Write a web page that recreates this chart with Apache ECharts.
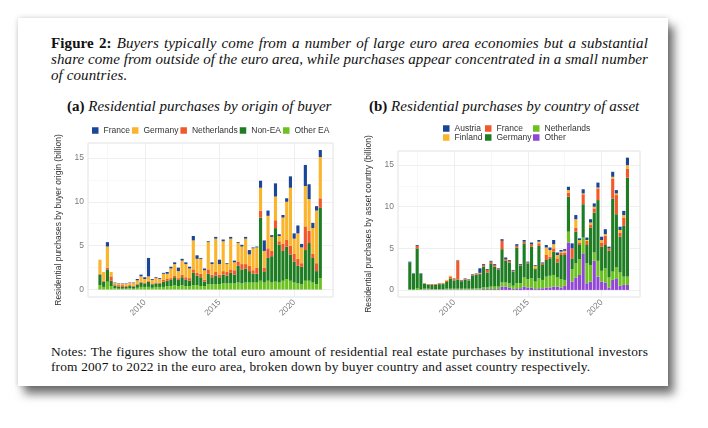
<!DOCTYPE html>
<html>
<head>
<meta charset="utf-8">
<script src="https://cdn.jsdelivr.net/npm/echarts@6/dist/echarts.min.js"></script>
<style>
    body { margin: 0; background: #fff; width: 708px; height: 428px; overflow: hidden; }
    #paper {
        position: absolute; left: 18px; top: 18px; width: 650px; height: 368px;
        background: #fff;
        box-shadow: 6px 8px 9px rgba(0, 0, 0, 0.55), 0 0 5px rgba(0, 0, 0, 0.18);
    }
    .serif { position: absolute; font-family: 'Liberation Serif', 'Times New Roman', serif; color: #111; }
    .line { white-space: nowrap; }
    .just { display: inline-block; }
    #caption { left: 51px; top: 35px; width: 597px; font-size: 15px; line-height: 16px; letter-spacing: 0.1px; }
    #notes { left: 51px; top: 344px; width: 597px; font-size: 13.4px; line-height: 15px; letter-spacing: 0.15px; }
    .sub { top: 98px; font-size: 15px; white-space: nowrap; }
    .chart { position: absolute; top: 0; width: 354px; height: 340px; }
</style>
</head>
<body>
<div id="paper"></div>
<div id="caption" class="serif">
    <div><span class="line just"><b>Figure 2:</b> <i>Buyers typically come from a number of large euro area economies but a substantial</i></span></div>
    <div><span class="line just"><i>share come from outside of the euro area, while purchases appear concentrated in a small number</i></span></div>
    <div class="line"><i>of countries.</i></div>
</div>
<div class="serif sub" style="left:67px"><b>(a)</b> <i>Residential purchases by origin of buyer</i></div>
<div class="serif sub" style="left:369px"><b>(b)</b> <i>Residential purchases by country of asset</i></div>
<div id="chartA" class="chart" style="left:0"></div>
<div id="chartB" class="chart" style="left:354px"></div>
<div id="notes" class="serif">
    <div><span class="line just">Notes: The figures show the total euro amount of residential real estate purchases by institutional investors</span></div>
    <div class="line">from 2007 to 2022 in the euro area, broken down by buyer country and asset country respectively.</div>
</div>

<script>
// Quarters 2007Q1 - 2021Q4
const quarters = [
    '2007Q1', '2007Q2', '2007Q3', '2007Q4', '2008Q1', '2008Q2', '2008Q3', '2008Q4',
    '2009Q1', '2009Q2', '2009Q3', '2009Q4', '2010Q1', '2010Q2', '2010Q3', '2010Q4',
    '2011Q1', '2011Q2', '2011Q3', '2011Q4', '2012Q1', '2012Q2', '2012Q3', '2012Q4',
    '2013Q1', '2013Q2', '2013Q3', '2013Q4', '2014Q1', '2014Q2', '2014Q3', '2014Q4',
    '2015Q1', '2015Q2', '2015Q3', '2015Q4', '2016Q1', '2016Q2', '2016Q3', '2016Q4',
    '2017Q1', '2017Q2', '2017Q3', '2017Q4', '2018Q1', '2018Q2', '2018Q3', '2018Q4',
    '2019Q1', '2019Q2', '2019Q3', '2019Q4', '2020Q1', '2020Q2', '2020Q3', '2020Q4',
    '2021Q1', '2021Q2', '2021Q3', '2021Q4'
];

const xTicks = [2010, 2015, 2020];
const xMinorTicks = [2007.5, 2012.5, 2017.5];
const yTicks = [0, 5, 10, 15];
const yMinorTicks = [2.5, 7.5, 12.5];

// (a) by origin of buyer, billion
const otherEA = [
    0.5, 0.3, 0.9, 0.4, 0.15, 0.1, 0.1, 0.1, 0.15, 0.1,
    0.2, 0.3, 0.3, 0.3, 0.2, 0.3, 0.3, 0.3, 0.4, 0.4,
    0.5, 0.4, 0.5, 0.4, 0.4, 0.5, 0.5, 0.4, 0.4, 0.6,
    0.6, 0.6, 0.6, 0.7, 0.7, 0.7, 0.7, 0.8, 0.7, 0.8,
    0.8, 0.8, 0.8, 1.0, 0.8, 1.0, 0.8, 0.9, 0.8, 1.0,
    1.2, 1.0, 0.8, 0.7, 0.6, 1.0, 1.0, 0.8, 0.6, 1.3
];
const nonEA = [
    1.2, 0.6, 1.4, 0.6, 0.3, 0.25, 0.2, 0.2, 0.25, 0.25,
    0.35, 0.5, 0.4, 0.6, 0.4, 0.4, 0.4, 0.6, 0.6, 0.7,
    0.9, 0.7, 0.9, 0.7, 0.6, 1.4, 1.1, 1.0, 0.5, 1.2,
    0.8, 1.0, 0.8, 1.0, 0.9, 1.2, 1.0, 1.9, 1.6, 1.6,
    1.3, 1.0, 1.0, 7.2, 1.2, 2.6, 3.0, 6.1, 4.3, 3.4,
    3.7, 3.0, 2.4, 2.0, 2.0, 3.5, 4.3, 2.8, 1.5, 8.0
];
const netherlandsA = [
    0.1, 0.1, 0.2, 0.5, 0.15, 0.15, 0.2, 0.15, 0.1, 0.1,
    0.1, 0.1, 0.1, 0.1, 0.1, 0.1, 0.1, 0.2, 0.2, 0.2,
    0.2, 0.2, 0.3, 0.3, 0.3, 0.4, 0.3, 0.4, 0.2, 0.5,
    0.3, 0.4, 0.3, 0.4, 0.4, 0.4, 0.5, 0.5, 0.6, 0.5,
    0.6, 0.4, 0.7, 0.8, 0.5, 1.1, 0.6, 0.9, 0.4, 0.8,
    0.8, 1.0, 0.9, 0.8, 0.4, 2.7, 1.4, 0.5, 0.9, 1.1
];
const germanyA = [
    1.6, 1.0, 2.4, 0.5, 0.15, 0.15, 0.15, 0.2, 0.25, 0.3,
    0.4, 0.6, 0.4, 0.5, 0.4, 0.5, 0.4, 0.7, 0.6, 1.1,
    1.3, 0.8, 1.6, 1.5, 1.1, 3.3, 1.6, 1.7, 1.1, 3.1,
    1.2, 3.8, 1.2, 3.4, 0.9, 3.5, 0.9, 2.1, 2.0, 2.9,
    1.3, 2.5, 2.3, 2.6, 1.9, 3.7, 1.6, 2.7, 0.6, 3.0,
    4.3, 6.6, 1.7, 2.9, 1.8, 4.6, 3.6, 2.9, 6.0, 4.7
];
const franceA = [
    0, 0, 0.5, 0, 0.05, 0.05, 0.05, 0.05, 0.05, 0.05,
    0.15, 0.2, 0.2, 2.1, 0.1, 0.1, 0.1, 0.1, 0.2, 0.2,
    0.2, 0.4, 0.2, 0.2, 0.2, 0.5, 0.4, 0.1, 0.2, 0.1,
    0.2, 0.2, 0.5, 0.2, 0.1, 0.2, 0.2, 0.1, 0.2, 0.2,
    0.5, 0.1, 0.1, 0.8, 1.2, 0.6, 0.2, 1.5, 0.2, 0.3,
    0.4, 1.3, 0.6, 0.9, 0.4, 2.4, 1.7, 0.6, 0.5, 0.8
];

// (b) by country of asset, billion
const otherB = [
    0, 0, 0, 0, 0.05, 0.05, 0.05, 0.05, 0.05, 0.05,
    0.05, 0.05, 0.05, 0.05, 0.05, 0.05, 0.05, 0.05, 0.05, 0.05,
    0.1, 0.1, 0.1, 0.1, 0.1, 0.4, 0.4, 0.3, 0.1, 0.2,
    0.2, 0.4, 0.3, 0.3, 0.1, 0.2, 0.2, 0.3, 0.3, 0.4,
    0.4, 0.3, 0.5, 5.7, 1.0, 1.5, 1.8, 4.4, 0.8, 1.0,
    3.5, 1.6, 1.0, 0.9, 0.3, 1.2, 1.4, 0.5, 0.6, 0.6
];
const netherlandsB = [
    0.05, 0.05, 0.2, 0.1, 0.1, 0.1, 0.05, 0.05, 0.05, 0.05,
    0.1, 0.1, 0.1, 0.1, 0.1, 0.1, 0.1, 0.1, 0.15, 0.15,
    0.2, 0.2, 0.3, 0.3, 0.3, 0.5, 0.5, 0.5, 0.4, 0.6,
    0.6, 1.1, 1.0, 1.1, 0.9, 1.2, 1.0, 1.3, 1.4, 1.4,
    1.1, 1.0, 0.7, 1.3, 1.5, 1.7, 1.9, 1.9, 2.4, 2.0,
    1.0, 1.9, 1.3, 1.7, 1.2, 1.0, 1.3, 1.6, 1.0, 1.0
];
const germanyB = [
    3.25, 1.9, 4.8, 1.85, 0.6, 0.5, 0.5, 0.5, 0.6, 0.6,
    0.8, 1.2, 1.0, 1.1, 0.9, 1.1, 1.0, 1.6, 1.6, 1.7,
    2.5, 1.8, 2.8, 2.4, 2.0, 4.0, 2.6, 2.5, 1.7, 4.3,
    2.1, 4.1, 1.9, 3.8, 1.5, 3.9, 1.8, 2.0, 2.1, 2.8,
    1.8, 2.9, 3.0, 4.2, 1.3, 3.8, 1.7, 4.0, 2.2, 4.5,
    4.8, 7.3, 2.9, 2.8, 3.2, 8.8, 6.4, 4.3, 6.1, 11.9
];
const franceB = [
    0, 0, 0.3, 0, 0.05, 0.05, 0.1, 0.1, 0.1, 0.1,
    0.15, 0.2, 0.15, 2.25, 0.1, 0.1, 0.1, 0.1, 0.1, 0.1,
    0.2, 0.3, 0.2, 0.2, 0.1, 1.0, 0.2, 0.2, 0.1, 0.2,
    0.1, 0.2, 0.1, 0.3, 0.1, 0.3, 0.2, 0.6, 0.2, 0.4,
    0.5, 0.3, 0.3, 0.5, 1.2, 0.5, 0.3, 1.2, 0.5, 0.3,
    0.5, 1.4, 0.5, 1.1, 0.3, 2.4, 2.3, 0.5, 1.0, 1.1
];
const finlandB = [
    0, 0, 0, 0, 0, 0, 0, 0, 0, 0,
    0.1, 0.15, 0.05, 0.05, 0, 0, 0, 0, 0.05, 0.05,
    0, 0, 0, 0, 0, 0, 0, 0, 0, 0,
    0, 0, 0, 0, 0.3, 0.2, 0, 0.9, 0.8, 0.5,
    0.4, 0.1, 0.2, 0.3, 0, 1.0, 0.3, 0.1, 0.1, 0.3,
    0.2, 0.1, 0.3, 0.2, 0, 0.2, 0.2, 0.3, 0.3, 0.4
];
const austriaB = [
    0.1, 0.05, 0.1, 0.05, 0, 0, 0, 0, 0, 0,
    0, 0, 0.05, 0.05, 0.05, 0.05, 0.05, 0.05, 0.05, 0.55,
    0.1, 0.1, 0.1, 0.1, 0.1, 0.2, 0.2, 0.1, 0.1, 0.2,
    0.1, 0.2, 0.1, 0.2, 0.1, 0.2, 0.1, 0.3, 0.3, 0.5,
    0.3, 0.2, 0.2, 0.4, 0.6, 0.5, 0.2, 0.5, 0.3, 0.4,
    0.4, 0.6, 0.4, 0.6, 0.2, 0.6, 0.4, 0.4, 0.5, 0.9
];

const BLUE = '#1b4596';
const YELLOW = '#fbb52c';
const ORANGE = '#f1592a';
const DARK_GREEN = '#1e7d22';
const LIGHT_GREEN = '#6cc11f';
const PURPLE = '#9146d8';

const SANS = "'Liberation Sans', Arial, sans-serif";

// panel (date) range, like ggplot's expanded scale
const X_MIN = 2006.2, X_MAX = 2022.6;
const Y_MIN = -0.85, Y_MAX = 16.7;

// Justify the full text lines to the block width (word-spacing, no wrapping)
function justifyLines() {
    document.querySelectorAll('.just').forEach(span => {
        const target = span.parentElement.parentElement.clientWidth;
        const spaces = (span.textContent.trim().match(/ /g) || []).length;
        const extra = (target - span.getBoundingClientRect().width) / spaces;
        span.style.wordSpacing = extra + 'px';
    });
}
justifyLines();

function barSeries(name, values, color) {
    return {
        name: name,
        type: 'bar',
        stack: 'total',
        xAxisIndex: 2,
        yAxisIndex: 2,
        barWidth: '84%',
        itemStyle: { color: color },
        emphasis: { disabled: true },
        data: values
    };
}

// panel grid carries the date axis, gridlines and labels; the bar grid sits inside it
// so that each quarter's bar lands on its date
function layout(panel, yName, nameGap) {
    const pxPerYear = panel.width / (X_MAX - X_MIN);
    const firstYear = Number(quarters[0].slice(0, 4));
    const lastQ = quarters[quarters.length - 1];
    const lastYear = Number(lastQ.slice(0, 4)) + (Number(lastQ.slice(5)) - 1) * 0.25;
    const barStart = firstYear - 0.125;
    const barEnd = lastYear + 0.125;
    const barGrid = {
        left: panel.left + (barStart - X_MIN) * pxPerYear,
        width: (barEnd - barStart) * pxPerYear,
        top: panel.top,
        height: panel.height
    };

    const xBase = { gridIndex: 0, type: 'value', min: X_MIN, max: X_MAX };
    const yBase = { gridIndex: 0, type: 'value', min: Y_MIN, max: Y_MAX };
    return {
        grid: [
            Object.assign({ show: true, backgroundColor: '#fff', borderColor: '#e2e2e2', borderWidth: 1 }, panel),
            barGrid
        ],
        xAxis: [
            Object.assign({}, xBase, {
                axisLine: { show: false },
                axisTick: { show: false, customValues: xTicks },
                axisLabel: {
                    customValues: xTicks,
                    rotate: 45,
                    margin: 4,
                    color: '#7a7a7a',
                    fontSize: 8.5,
                    fontFamily: SANS,
                    formatter: v => String(v)
                },
                splitLine: { show: true, lineStyle: { color: '#ebebeb', width: 0.8 } }
            }),
            Object.assign({}, xBase, {
                axisLine: { show: false },
                axisTick: { show: false, customValues: xMinorTicks },
                axisLabel: { show: false },
                splitLine: { show: true, lineStyle: { color: '#f4f4f4', width: 0.6 } }
            }),
            {
                gridIndex: 1,
                type: 'category',
                data: quarters,
                show: false
            }
        ],
        yAxis: [
            Object.assign({}, yBase, {
                name: yName,
                nameLocation: 'middle',
                nameGap: nameGap,
                nameTextStyle: { color: '#333', fontSize: 8.5, fontFamily: SANS },
                axisLine: { show: false },
                axisTick: { show: false, customValues: yTicks },
                axisLabel: {
                    customValues: yTicks,
                    margin: 4,
                    color: '#7a7a7a',
                    fontSize: 8.5,
                    fontFamily: SANS
                },
                splitLine: { show: true, lineStyle: { color: '#ebebeb', width: 0.8 } }
            }),
            Object.assign({}, yBase, {
                axisLine: { show: false },
                axisTick: { show: false, customValues: yMinorTicks },
                axisLabel: { show: false },
                splitLine: { show: true, lineStyle: { color: '#f4f4f4', width: 0.6 } }
            }),
            {
                gridIndex: 1,
                type: 'value',
                min: Y_MIN,
                max: Y_MAX,
                show: false,
                splitLine: { show: false }
            }
        ]
    };
}

function legendBlock(extra) {
    return Object.assign({
        icon: 'rect',
        itemWidth: 6.5,
        itemHeight: 6.5,
        itemGap: 2,
        padding: 0,
        selectedMode: false,
        textStyle: { color: '#333', fontSize: 8.5, fontFamily: SANS }
    }, extra);
}

// Chart (a)
const chartA = echarts.init(document.getElementById('chartA'), null, { renderer: 'canvas' });
chartA.setOption(Object.assign({
    animation: false,
    legend: legendBlock({
        left: 92, top: 126,
        data: ['France', 'Germany', 'Netherlands', 'Non-EA', 'Other EA']
    }),
    series: [
        barSeries('Other EA', otherEA, LIGHT_GREEN),
        barSeries('Non-EA', nonEA, DARK_GREEN),
        barSeries('Netherlands', netherlandsA, ORANGE),
        barSeries('Germany', germanyA, YELLOW),
        barSeries('France', franceA, BLUE)
    ]
}, layout({ left: 88, top: 143, width: 245, height: 154 },
    'Residential purchases by buyer origin (billion)', 15)));

// Chart (b)
const chartB = echarts.init(document.getElementById('chartB'), null, { renderer: 'canvas' });
chartB.setOption(Object.assign({
    animation: false,
    legend: [
        legendBlock({ left: 89, top: 124, orient: 'vertical', itemGap: 0, data: ['Austria', 'Finland'] }),
        legendBlock({ left: 131, top: 124, orient: 'vertical', itemGap: 0, data: ['France', 'Germany'] }),
        legendBlock({ left: 179, top: 124, orient: 'vertical', itemGap: 0, data: ['Netherlands', 'Other'] })
    ],
    series: [
        barSeries('Other', otherB, PURPLE),
        barSeries('Netherlands', netherlandsB, LIGHT_GREEN),
        barSeries('Germany', germanyB, DARK_GREEN),
        barSeries('France', franceB, ORANGE),
        barSeries('Finland', finlandB, YELLOW),
        barSeries('Austria', austriaB, BLUE)
    ]
}, layout({ left: 44, top: 151, width: 242, height: 146 },
    'Residential purchases by asset country (billion)', 19)));
</script>
</body>
</html>
